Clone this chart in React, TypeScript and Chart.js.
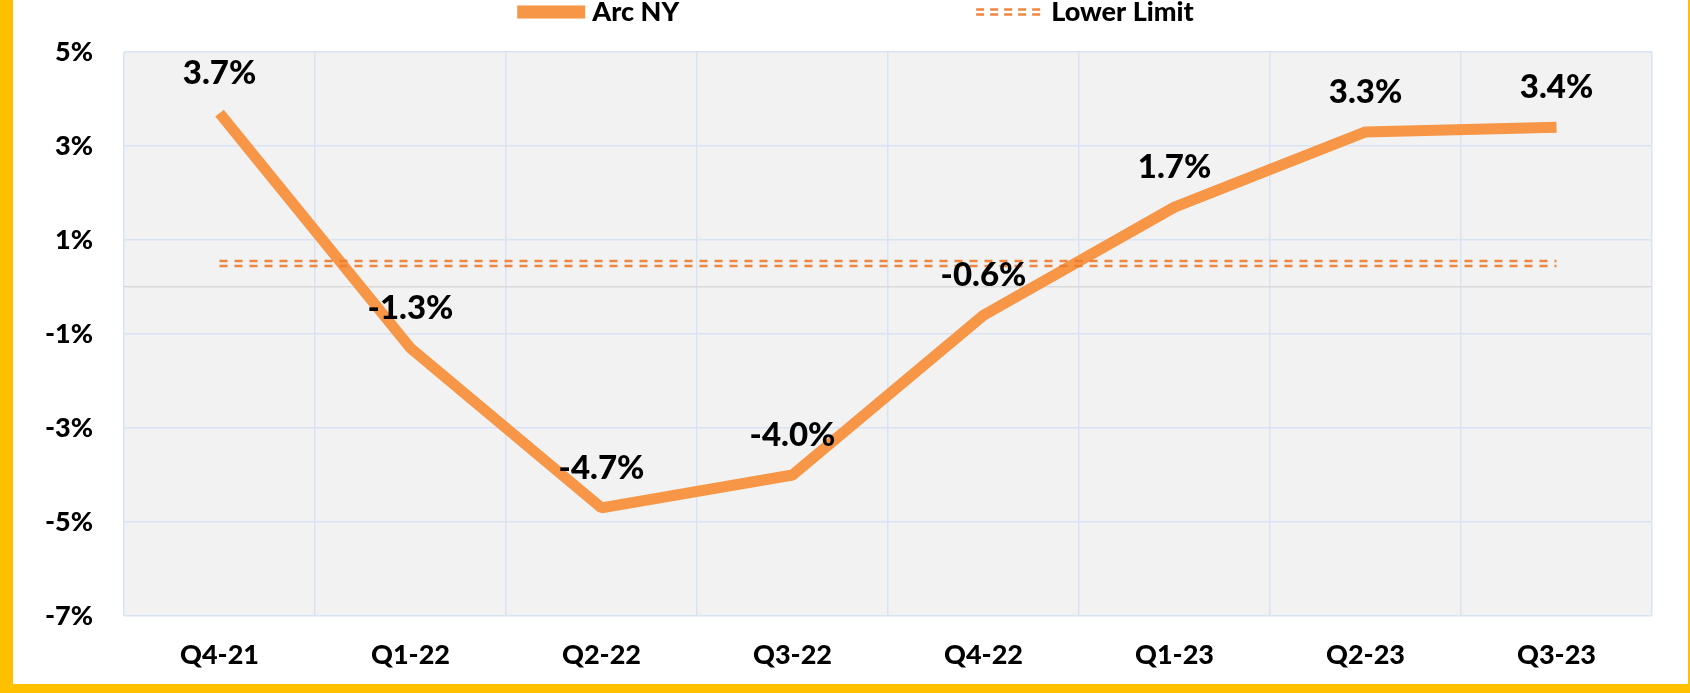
import React, { useEffect, useRef } from 'react';
import { Chart, registerables } from 'chart.js';

Chart.register(...registerables);

const categories = ['Q4-21', 'Q1-22', 'Q2-22', 'Q3-22', 'Q4-22', 'Q1-23', 'Q2-23', 'Q3-23'];
const arcNY = [3.7, -1.3, -4.7, -4.0, -0.6, 1.7, 3.3, 3.4];
const lowerLimit = [0.5, 0.5, 0.5, 0.5, 0.5, 0.5, 0.5, 0.5];
const seriesNames = ['Arc NY', 'Lower Limit'];
const yMin = -7;
const yMax = 5;

const FONT = 'Lato, "Open Sans", sans-serif';
const WEIGHT = '900';
const ARC_COLOR = '#F79646';
const LIMIT_COLOR = 'rgba(237,125,49,0.92)';
const GRID_BLUE = '#DAE3F3';
const ZERO_GRAY = '#D9D9D9';

const bgPlugin = {
  id: 'plotBg',
  beforeDraw(chart: any) {
    const { ctx, chartArea: a } = chart;
    ctx.save();
    ctx.fillStyle = '#F2F2F2';
    ctx.fillRect(a.left, a.top, a.right - a.left, a.bottom - a.top);
    ctx.restore();
  },
};

const doubleLinePlugin = {
  id: 'doubleLine',
  beforeDatasetDraw(chart: any, args: any) {
    if (args.index !== 1) return;
    const ctx = chart.ctx;
    const a = chart.chartArea;
    for (const off of [-2.6, 2.6]) {
      ctx.save();
      ctx.beginPath();
      ctx.rect(a.left, a.top - 10, a.right - a.left, a.bottom - a.top + 20);
      ctx.clip();
      ctx.translate(0, off);
      args.meta.controller.draw();
      ctx.restore();
    }
    return false;
  },
};

const labelsPlugin = {
  id: 'valueLabels',
  afterDatasetsDraw(chart: any) {
    const ctx = chart.ctx;
    const meta = chart.getDatasetMeta(0);
    ctx.save();
    ctx.font = `${WEIGHT} 33px ${FONT}`;
    ctx.fillStyle = '#000';
    ctx.textAlign = 'center';
    ctx.textBaseline = 'middle';
    meta.data.forEach((el: any, i: number) => {
      ctx.fillText(arcNY[i].toFixed(1) + '%', el.x, el.y - 40);
    });
    ctx.restore();
  },
};

const legendPlugin = {
  id: 'customLegend',
  afterDraw(chart: any) {
    const ctx = chart.ctx;
    ctx.save();
    ctx.font = `${WEIGHT} 27px ${FONT}`;
    ctx.textBaseline = 'middle';
    ctx.textAlign = 'left';
    const box = 68;
    const gapText = 7;
    const gapItem = 297;
    const w0 = ctx.measureText(seriesNames[0]).width;
    const w1 = ctx.measureText(seriesNames[1]).width;
    const total = box + gapText + w0 + gapItem + box + gapText + w1;
    let x = chart.width / 2 + 5 - total / 2;
    const cy = 12;
    ctx.fillStyle = ARC_COLOR;
    ctx.fillRect(x, cy - 6.5, box, 13);
    ctx.fillStyle = '#000';
    ctx.fillText(seriesNames[0], x + box + gapText, cy);
    x += box + gapText + w0 + gapItem;
    ctx.strokeStyle = LIMIT_COLOR;
    ctx.lineWidth = 2.5;
    ctx.setLineDash([8, 6]);
    for (const off of [-2.6, 2.6]) {
      ctx.beginPath();
      ctx.moveTo(x, cy + off);
      ctx.lineTo(x + box, cy + off);
      ctx.stroke();
    }
    ctx.setLineDash([]);
    ctx.fillStyle = '#000';
    ctx.fillText(seriesNames[1], x + box + gapText, cy);
    ctx.restore();
  },
};

export default function App() {
  const canvasRef = useRef<HTMLCanvasElement | null>(null);

  useEffect(() => {
    document.body.style.margin = '0';
    const canvas = canvasRef.current;
    if (!canvas) return;
    const tickFont = { family: FONT, size: 27, weight: WEIGHT as any };
    const chart = new Chart(canvas, {
      type: 'line',
      data: {
        labels: categories,
        datasets: [
          {
            label: seriesNames[0],
            data: arcNY,
            borderColor: ARC_COLOR,
            backgroundColor: ARC_COLOR,
            borderWidth: 11,
            borderJoinStyle: 'bevel',
            borderCapStyle: 'butt',
            pointRadius: 0,
            tension: 0,
            order: 1,
          },
          {
            label: seriesNames[1],
            data: lowerLimit,
            borderColor: LIMIT_COLOR,
            backgroundColor: LIMIT_COLOR,
            borderWidth: 2.5,
            borderDash: [8, 7],
            pointRadius: 0,
            tension: 0,
            order: 0,
          },
        ],
      },
      options: {
        animation: false,
        responsive: true,
        maintainAspectRatio: false,
        layout: { padding: { top: 52, right: 36, left: 0, bottom: 0 } },
        plugins: {
          legend: { display: false },
          tooltip: { enabled: false },
        },
        scales: {
          x: {
            offset: true,
            grid: { offset: true, color: GRID_BLUE, lineWidth: 1.5, drawTicks: false },
            border: { display: false },
            ticks: { font: tickFont, color: '#000', padding: 23, maxRotation: 0, autoSkip: false },
            afterFit: (s: any) => {
              s.height = 68;
            },
          },
          y: {
            min: yMin,
            max: yMax,
            ticks: {
              stepSize: 1,
              autoSkip: false,
              font: tickFont,
              color: '#000',
              padding: 31,
              callback: (v: any) => (Math.abs(Number(v) % 2) === 1 ? `${v}%` : ''),
            },
            grid: {
              drawTicks: false,
              lineWidth: 1.5,
              color: (ctx: any) => {
                const v = ctx.tick ? ctx.tick.value : NaN;
                if (v === 0) return ZERO_GRAY;
                if (Math.abs(v % 2) === 1) return GRID_BLUE;
                return 'rgba(0,0,0,0)';
              },
            },
            border: { display: false },
            afterFit: (s: any) => {
              s.width = 111;
            },
          },
        },
      },
      plugins: [bgPlugin, doubleLinePlugin, labelsPlugin, legendPlugin],
    } as any);
    return () => chart.destroy();
  }, []);

  return (
    <div
      style={{
        width: 1690,
        height: 693,
        boxSizing: 'border-box',
        borderLeft: '13px solid #FFC000',
        borderBottom: '9px solid #FFC000',
        borderRight: '2px solid #FFC000',
        background: '#fff',
      }}
    >
      <div style={{ position: 'relative', width: '100%', height: '100%' }}>
        <canvas ref={canvasRef} />
      </div>
    </div>
  );
}
